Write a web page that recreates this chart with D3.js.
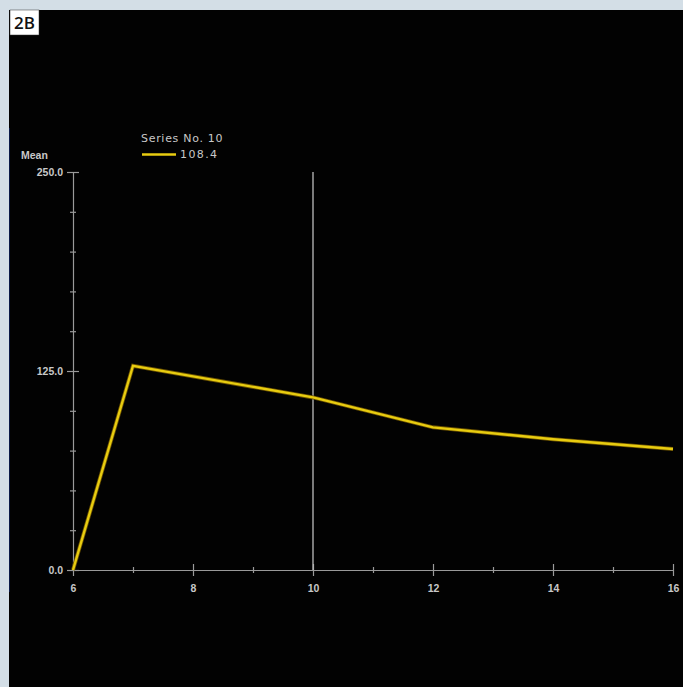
<!doctype html>
<html>
<head>
	<script src="https://d3js.org/d3.v7.min.js"></script>
	<style>
		body { margin: 0; background: #d3dee6; }
		svg { display: block; }
	</style>
</head>
<body>
	<svg id="chart" width="683" height="687"></svg>
	<script>
		var xValues = [6, 7, 10, 12, 14, 16];
		var meanValues = [0, 128.3, 108.4, 89.6, 82.1, 76.0];
		var xTickLabels = [6, 8, 10, 12, 14, 16];
		var yTickLabels = [0, 125, 250];
		var seriesName = "Series No. 10";
		var legendValue = "108.4";
		var cursorX = 10;

		dataViz();
		function dataViz() {
			var svg = d3.select("#chart");

			// black panel
			svg.append("rect")
				.attr("x", 9).attr("y", 10)
				.attr("width", 674).attr("height", 677)
				.attr("fill", "#020202");
			svg.append("line")
				.attr("x1", 9.5).attr("x2", 9.5)
				.attr("y1", 128).attr("y2", 592)
				.attr("stroke", "#0a1a48").attr("stroke-width", 1);

			// panel label
			svg.append("rect")
				.attr("x", 10).attr("y", 10)
				.attr("width", 29).attr("height", 25)
				.attr("fill", "#fff").attr("stroke", "#333").attr("stroke-width", 0.5);
			svg.append("text")
				.attr("x", 24.5).attr("y", 29)
				.attr("text-anchor", "middle")
				.attr("font-family", "Open Sans, sans-serif")
				.attr("font-size", 17).attr("font-weight", 600)
				.attr("fill", "#111")
				.text("2B");

			var xScale = d3.scaleLinear().domain([6, 16]).range([73, 673]);
			var yScale = d3.scaleLinear().domain([0, 250]).range([570, 172]);

			var font = "Liberation Sans, Arial, sans-serif";
			var axisColor = "#9a9a9a";
			var textColor = "#c8c8c8";

			// y axis
			var yAxis = d3.axisLeft(yScale)
				.tickValues(d3.range(0, 251, 25))
				.tickSize(0)
				.tickFormat("");
			var yG = svg.append("g").attr("transform", "translate(73,0)").call(yAxis);
			yG.select(".domain").attr("stroke", axisColor).attr("stroke-width", 1.2);
			yG.selectAll(".tick line")
				.attr("x1", d => yTickLabels.indexOf(d) >= 0 ? -6 : -3)
				.attr("x2", d => yTickLabels.indexOf(d) >= 0 ? 6 : 3)
				.attr("stroke", axisColor).attr("stroke-width", 1.2);
			yG.selectAll(".tick")
				.filter(d => yTickLabels.indexOf(d) >= 0)
				.append("text")
				.attr("x", -10).attr("dy", "0.35em")
				.attr("text-anchor", "end")
				.attr("font-family", font).attr("font-size", 10.5).attr("font-weight", "bold")
				.attr("fill", textColor)
				.text(d => d.toFixed(1));

			// x axis
			var xAxis = d3.axisBottom(xScale)
				.tickValues(d3.range(6, 17, 1))
				.tickSize(0)
				.tickFormat("");
			var xG = svg.append("g").attr("transform", "translate(0,570)").call(xAxis);
			xG.select(".domain").attr("stroke", axisColor).attr("stroke-width", 1.2);
			xG.selectAll(".tick line")
				.attr("y1", d => xTickLabels.indexOf(d) >= 0 ? -6 : -3)
				.attr("y2", d => xTickLabels.indexOf(d) >= 0 ? 6 : 3)
				.attr("stroke", axisColor).attr("stroke-width", 1.2);
			xG.selectAll(".tick")
				.filter(d => xTickLabels.indexOf(d) >= 0)
				.append("text")
				.attr("y", 22)
				.attr("text-anchor", "middle")
				.attr("font-family", font).attr("font-size", 10.5).attr("font-weight", "bold")
				.attr("fill", textColor)
				.text(d => d);

			// axis title
			svg.append("text")
				.attr("x", 21).attr("y", 159)
				.attr("font-family", font).attr("font-size", 10.5).attr("font-weight", "bold")
				.attr("fill", textColor)
				.text("Mean");

			// cursor line
			svg.append("line")
				.attr("x1", xScale(cursorX)).attr("x2", xScale(cursorX))
				.attr("y1", yScale(250)).attr("y2", yScale(0))
				.attr("stroke", "#bdbdbd").attr("stroke-width", 1.3);

			// series line
			var data = xValues.map((x, i) => ({x: x, y: meanValues[i]}));
			var line = d3.line().x(d => xScale(d.x)).y(d => yScale(d.y));
			svg.append("path")
				.datum(data)
				.attr("d", line)
				.attr("fill", "none")
				.attr("stroke", "#6b5200")
				.attr("stroke-width", 4)
				.attr("stroke-linejoin", "miter");
			svg.append("path")
				.datum(data)
				.attr("d", line)
				.attr("fill", "none")
				.attr("stroke", "#e8cc10")
				.attr("stroke-width", 2.4)
				.attr("stroke-linejoin", "miter");

			// legend
			svg.append("text")
				.attr("x", 141).attr("y", 142)
				.attr("font-family", "DejaVu Sans, sans-serif").attr("font-size", 11)
				.attr("letter-spacing", 0.7)
				.attr("fill", textColor)
				.text(seriesName);
			svg.append("line")
				.attr("x1", 142).attr("x2", 176)
				.attr("y1", 154.5).attr("y2", 154.5)
				.attr("stroke", "#e8cc10").attr("stroke-width", 2.5);
			svg.append("text")
				.attr("x", 180).attr("y", 158)
				.attr("font-family", "DejaVu Sans, sans-serif").attr("font-size", 11)
				.attr("letter-spacing", 1.4)
				.attr("fill", textColor)
				.text(legendValue);
		}
	</script>
</body>
</html>
